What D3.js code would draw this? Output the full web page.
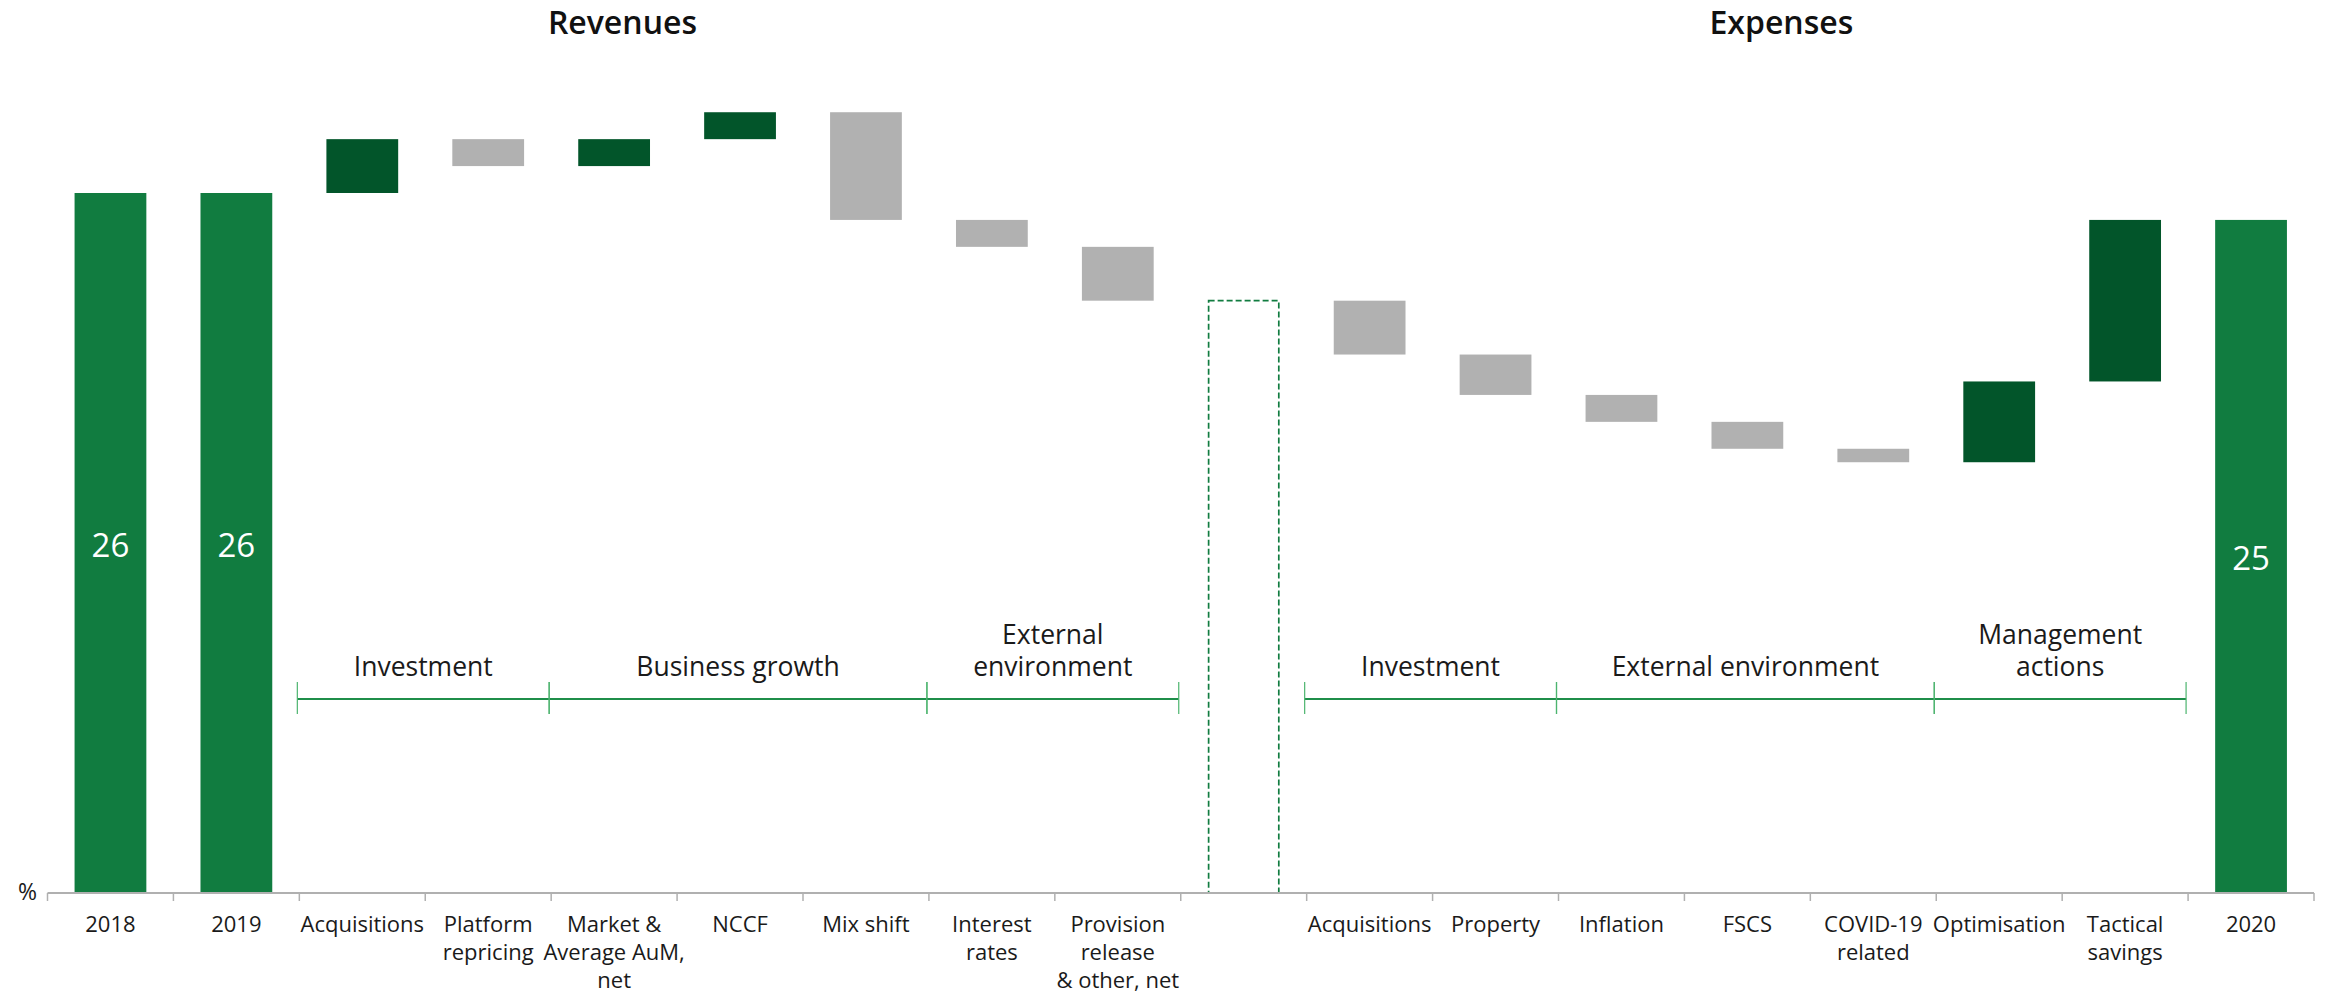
<!DOCTYPE html>
<html>
<head>
<meta charset="utf-8">
<script src="https://cdn.jsdelivr.net/npm/d3@7"></script>
<style>
  html, body { margin: 0; padding: 0; background: #fff; }
  svg { display: block; font-family: "Open Sans", "Noto Sans", sans-serif; }
</style>
</head>
<body>
<svg id="chart" width="2326" height="995"></svg>
<script>
// Cost/income ratio bridge, 2018 to 2020 (%)
const categories = [
  "2018", "2019", "Acquisitions", "Platform\nrepricing", "Market &\nAverage AuM,\nnet",
  "NCCF", "Mix shift", "Interest\nrates", "Provision\nrelease\n& other, net", "",
  "Acquisitions", "Property", "Inflation", "FSCS", "COVID-19\nrelated",
  "Optimisation", "Tactical\nsavings", "2020"
];
// Totals hold the level; steps hold the change from the previous level
const values = [26, 26, 2, -1, 1, 1, -4, -1, -2, 22, -2, -1.5, -1, -1, -0.5, 3, 6, 25];
const kinds  = ["total", "total", "step", "step", "step", "step", "step", "step", "step", "subtotal",
                "step", "step", "step", "step", "step", "step", "step", "total"];
const labelled = ["2018", "2019", "2020"];

const groupNames = ["Investment", "Business growth", "External\nenvironment",
                    "Investment", "External environment", "Management\nactions"];
const groupStart = [2, 4, 7, 10, 12, 15];
const groupEnd   = [3, 6, 8, 11, 14, 16];

const sectionTitles = ["Revenues", "Expenses"];
const sectionAt = [4.566, 13.77];   // position in band steps from the axis start

const colTotal = "#117c40", colUp = "#02552a", colDown = "#b1b1b1";

const svg = d3.select("#chart");

const x = d3.scaleBand()
  .domain(d3.range(categories.length))
  .range([47.5, 2314])
  .paddingInner(0.43)
  .paddingOuter(0.215);

const y = d3.scaleLinear().domain([0, 26]).range([893, 193]);

// Running level for each column
let level = 0;
const bars = values.map((v, i) => {
  const k = kinds[i];
  let lo, hi, fill;
  if (k === "total" || k === "subtotal") {
    lo = 0; hi = v; level = v; fill = colTotal;
  } else {
    const prev = level;
    level = prev + v;
    lo = Math.min(prev, level); hi = Math.max(prev, level);
    fill = v >= 0 ? colUp : colDown;
  }
  return { i, lo, hi, v, kind: k, fill, name: categories[i] };
});

// Bars
svg.append("g").selectAll("rect.bar")
  .data(bars.filter(d => d.kind !== "subtotal"))
  .join("rect")
  .attr("class", "bar")
  .attr("x", d => x(d.i))
  .attr("width", x.bandwidth())
  .attr("y", d => y(d.hi))
  .attr("height", d => y(d.lo) - y(d.hi))
  .attr("fill", d => d.fill);

// Revenue subtotal shown as a dashed outline
svg.append("g").selectAll("rect.sub")
  .data(bars.filter(d => d.kind === "subtotal"))
  .join("rect")
  .attr("class", "sub")
  .attr("x", d => x(d.i) + 0.8)
  .attr("width", x.bandwidth() - 1.6)
  .attr("y", d => y(d.hi))
  .attr("height", d => y(d.lo) - y(d.hi))
  .attr("fill", "none")
  .attr("stroke", colTotal)
  .attr("stroke-width", 1.7)
  .attr("stroke-dasharray", "6,3");

// Value labels inside the total bars
svg.append("g").selectAll("text.val")
  .data(bars.filter(d => labelled.includes(d.name)))
  .join("text")
  .attr("class", "val")
  .attr("x", d => x(d.i) + x.bandwidth() / 2)
  .attr("y", d => (y(d.hi) + y(d.lo)) / 2 + 14)
  .attr("text-anchor", "middle")
  .attr("fill", "#fff")
  .attr("font-size", 33)
  .text(d => d3.format("d")(d.v));

// Category axis: baseline plus ticks on band boundaries
const step = x.step();
const x0 = x.range()[0];
const axis = svg.append("g");
axis.append("line")
  .attr("x1", x0).attr("x2", x.range()[1])
  .attr("y1", y(0)).attr("y2", y(0))
  .attr("stroke", "#b0b0b0").attr("stroke-width", 2);
axis.selectAll("line.tick")
  .data(d3.range(categories.length + 1))
  .join("line")
  .attr("class", "tick")
  .attr("x1", i => x0 + i * step).attr("x2", i => x0 + i * step)
  .attr("y1", y(0)).attr("y2", y(0) + 8)
  .attr("stroke", "#b0b0b0").attr("stroke-width", 1.5);

const catText = axis.selectAll("text.cat")
  .data(categories)
  .join("text")
  .attr("class", "cat")
  .attr("x", (d, i) => x(i) + x.bandwidth() / 2)
  .attr("y", 931.5)
  .attr("text-anchor", "middle")
  .attr("font-size", 22)
  .attr("fill", "#1a1a1a");
catText.selectAll("tspan")
  .data((d, i) => d.split("\n").map(t => ({ t, cx: x(i) + x.bandwidth() / 2 })))
  .join("tspan")
  .attr("x", d => d.cx)
  .attr("dy", (d, j) => j === 0 ? 0 : 28.3)
  .text(d => d.t);

axis.append("text")
  .attr("x", 37).attr("y", 900)
  .attr("text-anchor", "end")
  .attr("font-size", 23)
  .attr("fill", "#1a1a1a")
  .text("%");

// Group brackets with labels
const gb = svg.append("g");
groupNames.forEach((name, k) => {
  const a = x0 + groupStart[k] * step - 2;
  const b = x0 + (groupEnd[k] + 1) * step - 2;
  const g = gb.append("g");
  g.append("line").attr("x1", a).attr("x2", b).attr("y1", 699).attr("y2", 699)
    .attr("stroke", "#1f8e4a").attr("stroke-width", 2);
  [a, b].forEach(px => g.append("line")
    .attr("x1", px).attr("x2", px).attr("y1", 682).attr("y2", 714)
    .attr("stroke", "#4cb46e").attr("stroke-width", 1.2));
  const lines = name.split("\n");
  const t = g.append("text")
    .attr("text-anchor", "middle")
    .attr("font-size", 26.5)
    .attr("fill", "#1a1a1a")
    .attr("y", 676 - (lines.length - 1) * 32);
  lines.forEach((ln, j) => t.append("tspan")
    .attr("x", (a + b) / 2).attr("dy", j === 0 ? 0 : 32).text(ln));
});

// Section titles
svg.append("g").selectAll("text.title")
  .data(sectionTitles)
  .join("text")
  .attr("class", "title")
  .attr("x", (d, i) => x0 + sectionAt[i] * step)
  .attr("y", 34.3)
  .attr("text-anchor", "middle")
  .attr("font-size", 32)
  .attr("font-weight", 600)
  .attr("fill", "#111")
  .text(d => d);
</script>
</body>
</html>
